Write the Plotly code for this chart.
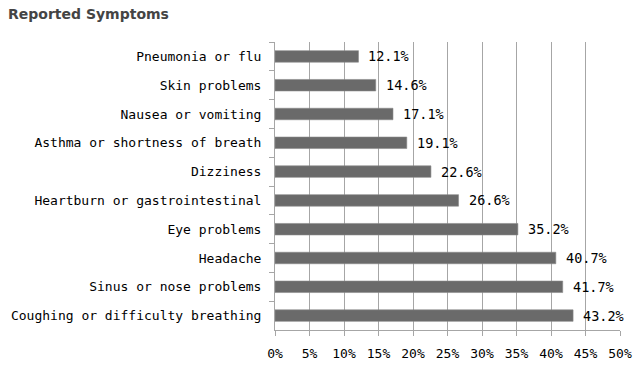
import plotly.graph_objects as go

categories = [
    "Pneumonia or flu",
    "Skin problems",
    "Nausea or vomiting",
    "Asthma or shortness of breath",
    "Dizziness",
    "Heartburn or gastrointestinal",
    "Eye problems",
    "Headache",
    "Sinus or nose problems",
    "Coughing or difficulty breathing",
]
values = [12.1, 14.6, 17.1, 19.1, 22.6, 26.6, 35.2, 40.7, 41.7, 43.2]
tick_vals = [0, 5, 10, 15, 20, 25, 30, 35, 40, 45, 50]
tick_text = [f"{v}%" for v in tick_vals]
value_labels = [f"{v:.1f}%" for v in values]

label_font = "DejaVu Sans Mono"
title_font = "DejaVu Sans"

fig = go.Figure()
fig.add_trace(go.Bar(
    x=values,
    y=categories,
    orientation="h",
    width=0.4,
    marker=dict(color="#6a6a6a", line=dict(color="#8a8a8a", width=0.6)),
    hoverinfo="skip",
))

for v, c, t in zip(values, categories, value_labels):
    fig.add_annotation(
        x=v, y=c, text=t, showarrow=False, xanchor="left", xshift=8,
        font=dict(family=label_font, size=13.5, color="#000000"),
    )

fig.update_layout(
    width=640, height=369,
    margin=dict(l=275, r=20, t=42, b=39),
    paper_bgcolor="white", plot_bgcolor="white",
    showlegend=False,
    title=dict(
        text="<b>Reported Symptoms</b>",
        x=0.0125, xanchor="left", y=0.962, yanchor="middle",
        font=dict(family=title_font, size=14, color="#444444"),
    ),
    font=dict(family=label_font, size=13, color="#000000"),
)

fig.update_xaxes(
    range=[0, 50],
    tickvals=tick_vals, ticktext=tick_text,
    showgrid=True, gridcolor="#a6a6a6", gridwidth=1,
    showline=True, linecolor="#a6a6a6", linewidth=1,
    ticks="outside", ticklen=5, tickcolor="#a6a6a6",
    ticklabelstandoff=6,
    zeroline=False, automargin=False,
    tickfont=dict(family=label_font, size=13, color="#000000"),
)
fig.update_yaxes(
    autorange="reversed",
    categoryorder="array", categoryarray=categories,
    showline=True, linecolor="#a6a6a6", linewidth=1,
    ticks="outside", ticklen=5, tickcolor="#a6a6a6",
    tickson="boundaries",
    ticklabelstandoff=10,
    showgrid=False, automargin=False,
    tickfont=dict(family=label_font, size=13, color="#000000"),
)

fig.write_html(
    "out.html",
    config={"displayModeBar": False, "staticPlot": True},
    post_script="document.body.style.margin='0';",
)
